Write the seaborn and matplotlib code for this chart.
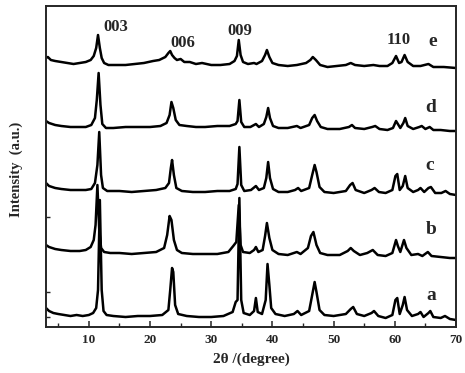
import matplotlib
matplotlib.use("Agg")
import matplotlib.pyplot as plt
import seaborn as sns
import pandas as pd

# 2theta / intensity, each curve relative to its own baseline
theta_a = [3.0, 3.5, 4.2, 5.0, 6.0, 7.0, 8.0, 9.0, 10.0, 10.7, 11.2, 11.5, 11.8, 12.1, 12.4, 12.9, 14.0,
           16.0, 18.0, 20.0, 22.0, 23.0, 23.3, 23.6, 23.8, 24.1, 24.6, 26.0, 28.0, 30.0, 32.0, 33.5,
           34.0, 34.3, 34.6, 34.9, 35.3, 36.3, 37.0, 37.3, 37.6, 38.3, 38.9, 39.2, 39.5, 39.8, 40.5,
           42.0, 43.5, 44.1, 44.7, 46.0, 46.5, 46.9, 47.2, 47.7, 48.5, 50.0, 52.0, 52.8, 53.2, 53.8,
           55.0, 56.2, 56.6, 57.3, 58.5, 59.6, 60.1, 60.4, 60.8, 61.3, 61.6, 62.0, 62.8, 63.8, 64.2,
           64.7, 65.5, 65.8, 66.3, 67.5, 68.2, 69.0, 70.0]
int_a = [11, 8, 6, 5, 4, 3, 4, 3, 4, 6, 11, 29, 119, 29, 8, 4, 3,
         2, 3, 3, 4, 9, 29, 51, 47, 14, 5, 3, 2, 2, 3, 7,
         17, 19, 121, 19, 6, 4, 8, 21, 7, 5, 19, 55, 34, 11, 5,
         3, 5, 8, 4, 8, 24, 37, 27, 9, 4, 3, 5, 10, 12, 5,
         3, 6, 8, 3, 1, 4, 19, 21, 5, 14, 22, 9, 3, 5, 7,
         2, 6, 8, 2, 1, 3, 0, -1]

theta_b = [3.0, 3.5, 4.5, 5.5, 7.0, 8.5, 9.5, 10.3, 10.8, 11.1, 11.4, 11.7, 12.0, 12.5, 13.5, 15.0,
           17.0, 19.0, 21.0, 22.3, 22.8, 23.2, 23.5, 23.9, 24.4, 25.2, 27.0, 29.0, 31.0, 32.8, 33.6,
           34.1, 34.5, 34.8, 35.2, 36.3, 37.0, 37.3, 37.7, 38.4, 38.8, 39.1, 39.5, 40.0, 41.0, 42.5,
           44.0, 44.6, 45.8, 46.3, 46.7, 47.2, 47.8, 49.0, 51.0, 52.3, 52.8, 53.3, 54.3, 55.5, 56.4,
           57.2, 58.5, 59.6, 60.2, 60.5, 60.9, 61.5, 61.9, 62.7, 63.8, 64.5, 65.4, 66.0, 67.5, 69.0, 70.0]
int_b = [13, 11, 9, 8, 7, 7, 8, 11, 18, 33, 73, 28, 10, 6, 5, 5,
         4, 5, 6, 10, 23, 42, 38, 18, 8, 5, 4, 4, 4, 6, 12,
         16, 53, 13, 6, 5, 8, 11, 6, 8, 22, 35, 20, 8, 4, 3,
         6, 4, 10, 22, 26, 13, 5, 3, 3, 7, 10, 7, 3, 5, 8,
         3, 2, 5, 18, 12, 6, 18, 10, 3, 4, 2, 6, 2, 1, 0, 0]

theta_c = [3.0, 3.5, 4.5, 5.5, 7.0, 8.5, 9.5, 10.4, 11.0, 11.4, 11.7, 12.0, 12.3, 13.0, 15.0, 17.0,
           19.0, 21.0, 22.5, 23.1, 23.4, 23.6, 23.9, 24.3, 25.2, 27.0, 29.0, 31.0, 33.0, 34.0, 34.3,
           34.6, 34.9, 35.4, 36.5, 37.3, 37.8, 38.6, 39.0, 39.3, 39.6, 40.1, 41.0, 42.5, 43.7, 44.2,
           44.7, 46.0, 46.5, 46.9, 47.2, 47.7, 48.5, 50.0, 52.0, 52.7, 53.1, 53.6, 55.0, 56.2, 56.7,
           57.4, 58.5, 59.6, 60.1, 60.4, 60.8, 61.3, 61.7, 62.1, 63.0, 63.8, 64.2, 64.8, 65.5, 65.9,
           66.6, 67.6, 68.3, 69.0, 70.0]
int_c = [12, 9, 7, 6, 5, 5, 5, 6, 12, 30, 63, 20, 7, 4, 4, 3,
         4, 5, 7, 12, 27, 35, 20, 7, 4, 3, 3, 4, 4, 6, 11,
         48, 10, 4, 5, 9, 5, 7, 17, 33, 17, 6, 3, 3, 5, 7,
         4, 7, 20, 30, 23, 8, 3, 2, 4, 10, 12, 5, 2, 5, 7,
         3, 2, 5, 19, 21, 5, 9, 19, 7, 3, 5, 7, 3, 7, 8,
         2, 2, 4, 1, 0]

theta_d = [3.0, 3.5, 4.5, 5.5, 7.0, 8.5, 9.5, 10.4, 11.0, 11.3, 11.6, 11.9, 12.2, 12.8, 14.0, 16.0,
           18.0, 20.0, 21.7, 22.7, 23.2, 23.5, 23.8, 24.2, 24.8, 26.0, 27.5, 29.0, 31.0, 33.0, 34.0,
           34.3, 34.6, 34.9, 35.4, 36.4, 37.3, 37.8, 38.6, 39.0, 39.3, 39.6, 40.1, 41.0, 42.5, 44.0,
           44.6, 46.0, 46.5, 46.9, 47.3, 47.9, 49.0, 51.0, 52.5, 53.0, 53.5, 55.0, 56.3, 56.8, 57.5,
           58.8, 59.7, 60.2, 60.5, 60.9, 61.4, 61.7, 62.1, 63.0, 64.0, 64.4, 65.0, 65.7, 66.3, 67.5,
           69.0, 70.0]
int_d = [10, 8, 6, 5, 4, 4, 4, 6, 13, 31, 58, 26, 7, 3, 3, 4,
         4, 4, 5, 8, 16, 29, 23, 11, 6, 5, 4, 4, 5, 5, 7,
         10, 31, 9, 4, 4, 7, 4, 7, 14, 23, 13, 5, 3, 3, 5,
         3, 6, 13, 16, 10, 4, 2, 2, 4, 6, 3, 2, 4, 5, 2,
         1, 3, 10, 7, 3, 8, 13, 5, 2, 4, 5, 2, 4, 1, 1,
         0, 0]

theta_e = [3.0, 3.3, 3.8, 4.5, 5.5, 6.5, 7.5, 8.5, 9.5, 10.3, 10.8, 11.2, 11.5, 11.8, 12.1, 12.5,
           13.2, 14.5, 16.0, 17.5, 19.0, 20.5, 21.5, 22.5, 23.0, 23.3, 23.6, 24.0, 24.4, 25.0, 25.6,
           26.5, 27.5, 28.5, 30.0, 31.5, 33.0, 33.8, 34.2, 34.5, 34.8, 35.2, 36.0, 37.0, 37.4, 38.3,
           38.8, 39.1, 39.5, 40.0, 41.0, 42.5, 44.0, 45.5, 46.2, 46.6, 47.1, 47.8, 49.0, 50.5, 52.0,
           52.8, 53.5, 55.0, 56.5, 57.5, 58.8, 59.6, 60.2, 60.7, 61.1, 61.6, 62.1, 63.0, 64.2, 65.5,
           66.3, 68.0, 70.0]
int_e = [10, 11, 8, 7, 6, 5, 4, 5, 6, 8, 12, 20, 33, 20, 10, 5,
         3, 3, 3, 4, 5, 7, 8, 11, 15, 17, 13, 10, 8, 9, 6,
         6, 4, 5, 3, 3, 4, 7, 12, 28, 13, 6, 4, 5, 4, 7,
         13, 18, 11, 5, 3, 2, 3, 5, 8, 11, 8, 3, 1, 2, 3,
         5, 3, 2, 3, 2, 2, 5, 12, 5, 6, 13, 6, 2, 2, 4,
         1, 1, 0]

sample_names = ["a", "b", "c", "d", "e"]
offsets = [8, 69, 132, 196, 259]
peak_labels = ["003", "006", "009", "110"]

curves = [(theta_a, int_a), (theta_b, int_b), (theta_c, int_c), (theta_d, int_d), (theta_e, int_e)]

sns.set_theme(style="ticks")
plt.rcParams["font.family"] = ["Liberation Serif", "DejaVu Serif"]
plt.rcParams["font.weight"] = "bold"

fig = plt.figure(figsize=(4.65, 3.73), dpi=100)
ax = fig.add_axes([46 / 465, 46 / 373, 410 / 465, 321 / 373])

for (tt, ii), off, name in zip(curves, offsets, sample_names):
    df = pd.DataFrame({"theta": tt, "intensity": [v + off for v in ii]})
    sns.lineplot(data=df, x="theta", y="intensity", ax=ax, color="black",
                 linewidth=1.8, estimator=None, sort=False)

ax.set_xlim(3, 70)
ax.set_ylim(0, 321)
ax.set_xticks([10, 20, 30, 40, 50, 60, 70])
ax.set_xticks([5, 15, 25, 35, 45, 55, 65], minor=True)
ax.set_yticks([10, 35, 110])
ax.set_yticklabels([])
ax.tick_params(axis="x", which="major", direction="in", length=4, width=1.1,
               labelsize=9.5, pad=5, top=False)
ax.tick_params(axis="x", which="minor", direction="in", length=3, width=1.0, top=False)
ax.tick_params(axis="y", direction="in", length=3, width=1.0, right=False)
for lbl in ax.get_xticklabels():
    lbl.set_fontweight("bold")
for sp in ax.spines.values():
    sp.set_linewidth(1.4)
    sp.set_visible(True)

ax.set_xlabel("2θ /(degree)", fontsize=11, fontweight="bold", labelpad=5)
ax.set_ylabel("Intensity  (a.u.)", fontsize=10.5, fontweight="bold")
ax.yaxis.set_label_coords(-0.055, 0.49)

# peak indices
for txt, x, y in zip(peak_labels, [14.4, 25.4, 34.7, 60.7], [300, 284, 296, 287]):
    ax.text(x, y, txt, ha="center", va="center", fontsize=12, fontweight="bold")

# sample letters
for name, x, y in zip(sample_names, [65.9, 65.9, 65.7, 65.9, 66.2], [31, 97, 162, 220, 286]):
    ax.text(x, y, name, ha="center", va="center", fontsize=14, fontweight="bold")

fig.savefig("out.png", dpi=100)
